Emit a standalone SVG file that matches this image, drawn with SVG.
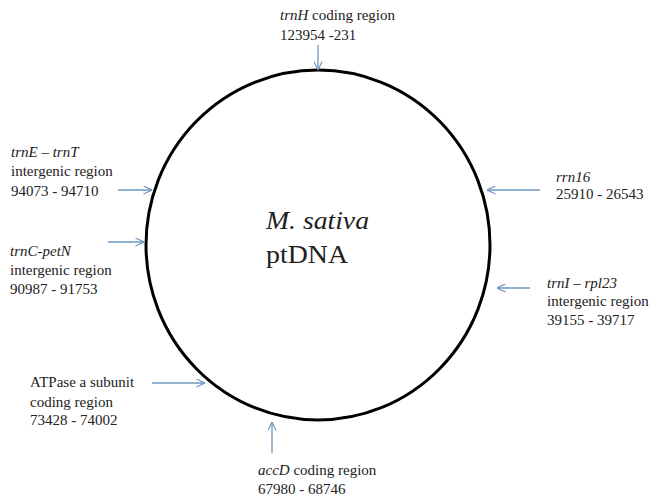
<svg xmlns="http://www.w3.org/2000/svg" width="653" height="498" viewBox="0 0 653 498">
<style>
text{font-family:'Liberation Serif','Times New Roman','DejaVu Serif',serif;font-size:15px;fill:#222}
.i{font-style:italic}
.c{stroke:#6f97c0;stroke-width:1.3;fill:none}
</style>
<defs>
<marker id="a" viewBox="0 0 10 10" refX="9.5" refY="5" markerWidth="9" markerHeight="9" markerUnits="userSpaceOnUse" orient="auto"><path d="M0,0.5 L9.5,5 L0,9.5" fill="none" stroke="#6f97c0" stroke-width="1.3"/></marker>
</defs>
<rect width="653" height="498" fill="#fff"/>
<g id="plasmid">
<ellipse cx="318" cy="245" rx="172" ry="175" fill="none" stroke="#000" stroke-width="3"/>
<text x="266" y="229" class="i" style="font-size:25px" textLength="103" lengthAdjust="spacingAndGlyphs">M. sativa</text>
<text x="266" y="263" style="font-size:25px" textLength="82" lengthAdjust="spacingAndGlyphs">ptDNA</text>
</g>
<g id="connectors">
<line class="c" x1="318" y1="45" x2="318" y2="70" marker-end="url(#a)"/>
<line class="c" x1="118" y1="190" x2="152" y2="190" marker-end="url(#a)"/>
<line class="c" x1="108" y1="242" x2="144" y2="242" marker-end="url(#a)"/>
<line class="c" x1="540" y1="190" x2="487" y2="190" marker-end="url(#a)"/>
<line class="c" x1="530" y1="288" x2="497" y2="288" marker-end="url(#a)"/>
<line class="c" x1="152" y1="383" x2="205" y2="383" marker-end="url(#a)"/>
<line class="c" x1="272" y1="453" x2="272" y2="422" marker-end="url(#a)"/>
</g>
<g id="trnH"><text x="280" y="20"><tspan class="i">trnH</tspan> coding region</text><text x="280" y="40">123954 -231</text></g>
<g id="trnE"><text x="11" y="157" class="i">trnE – trnT</text><text x="11" y="176">intergenic region</text><text x="11" y="196">94073 - 94710</text></g>
<g id="trnC"><text x="10" y="256" class="i">trnC-petN</text><text x="10" y="275">intergenic region</text><text x="10" y="294">90987 - 91753</text></g>
<g id="rrn16"><text x="556" y="182" class="i">rrn16</text><text x="556" y="199">25910 - 26543</text></g>
<g id="trnI"><text x="547" y="288" class="i">trnI – rpl23</text><text x="547" y="306">intergenic region</text><text x="547" y="325">39155 - 39717</text></g>
<g id="atpase"><text x="30" y="387">ATPase a subunit</text><text x="30" y="407">coding region</text><text x="30" y="425">73428 - 74002</text></g>
<g id="accD"><text x="258" y="475"><tspan class="i">accD</tspan> coding region</text><text x="258" y="494">67980 - 68746</text></g>
</svg>
